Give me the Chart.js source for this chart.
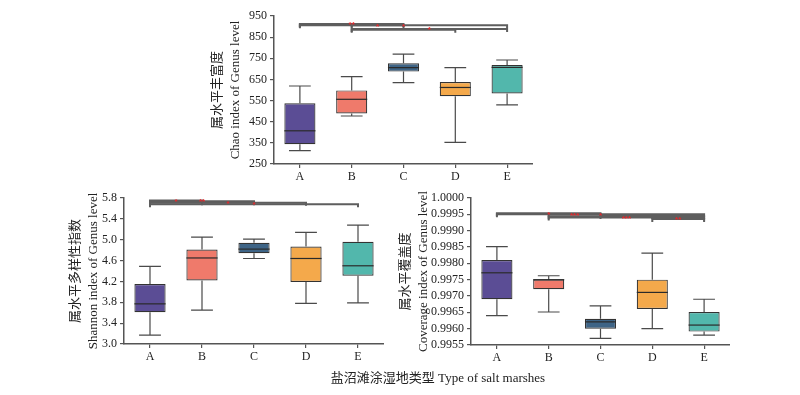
<!DOCTYPE html>
<html>
<head>
<meta charset="utf-8">
<script src="https://cdn.jsdelivr.net/npm/chart.js@4.4.0/dist/chart.umd.min.js"></script>
<style>
  body { margin: 0; background: #fff; width: 800px; height: 395px; position: relative; overflow: hidden; }
  .panel { position: absolute; }
  #xtitle { position: absolute; left: 288px; width: 300px; top: 367px; text-align: center;
            font: 13px 'Liberation Serif', 'Noto Sans CJK SC', serif; color: #222; }
</style>
</head>
<body>
<div class="panel" style="left:206px;top:0px;width:327px;height:188px"><canvas id="chao"></canvas></div>
<div class="panel" style="left:64px;top:182px;width:320px;height:186px"><canvas id="shannon"></canvas></div>
<div class="panel" style="left:394px;top:182px;width:336px;height:187px"><canvas id="coverage"></canvas></div>
<div id="xtitle">盐沼滩涂湿地类型 Type of salt marshes</div>
<script>
const groups = ['A', 'B', 'C', 'D', 'E'];
const colors = ['#5b4d95', '#ef7a6b', '#3e6486', '#f4a94b', '#52b7ac'];

// Chao
const chaoMin = [313, 477, 635, 352, 530];
const chaoQ1 = [344, 489, 687, 571, 584];
const chaoMed = [407, 556, 706, 612, 707];
const chaoQ3 = [537, 598, 726, 638, 718];
const chaoMax = [619, 663, 770, 706, 742];
const chaoTicks = [250, 350, 450, 550, 650, 750, 850, 950];
const chaoSig = [['A', 'B', 910, ''], ['A', 'C', 912, '**'], ['B', 'C', 906, '*'], ['A', 'E', 906, '*'], ['B', 'D', 885, ''], ['B', 'E', 889, '*']];

// Shannon
const shanMin = [3.17, 3.65, 4.64, 3.78, 3.79];
const shanQ1 = [3.61, 4.22, 4.74, 4.19, 4.31];
const shanMed = [3.77, 4.65, 4.82, 4.64, 4.50];
const shanQ3 = [4.15, 4.81, 4.94, 4.87, 4.96];
const shanMax = [4.49, 5.05, 5.01, 5.14, 5.28];
const shanTicks = [3.0, 3.4, 3.8, 4.2, 4.6, 5.0, 5.4, 5.8];
const shanSig = [['A', 'B', 5.75, '*'], ['A', 'C', 5.74, '**'], ['B', 'C', 5.72, ''], ['A', 'D', 5.71, '*'], ['A', 'E', 5.68, '*']];

// Coverage
const covMin = [0.9964, 0.99651, 0.9957, 0.9960, 0.9958];
const covQ1 = [0.9969, 0.99721, 0.9960, 0.9966, 0.99591];
const covMed = [0.99771, 0.9975, 0.99621, 0.99711, 0.99611];
const covQ3 = [0.9981, 0.9975, 0.9963, 0.9975, 0.99651];
const covMax = [0.99851, 0.99762, 0.9967, 0.99831, 0.9969];
const covTicks = [0.9955, 0.9960, 0.9965, 0.9970, 0.9975, 0.9980, 0.9985, 0.9990, 0.9995, 1.0000];
const covSig = [['A', 'C', 0.99953, '*'], ['B', 'C', 0.99950, '***'], ['A', 'E', 0.99950, '*'], ['B', 'D', 0.99944, ''], ['C', 'E', 0.99945, ''], ['B', 'E', 0.99940, '***'], ['D', 'E', 0.99936, '**']];

const serif = "'Liberation Serif', 'Noto Sans CJK SC', serif";

// whiskers, medians and significance brackets, placed with the chart scales
const boxExtras = {
  id: 'boxExtras',
  afterDatasetsDraw(chart, args, opts) {
    const ctx = chart.ctx;
    const x = chart.scales.x, y = chart.scales.y;
    const meta = chart.getDatasetMeta(0);
    ctx.save();
    ctx.strokeStyle = '#4a4a4a';
    ctx.lineWidth = 1.2;
    groups.forEach((g, i) => {
      const cx = x.getPixelForValue(i);
      const w = meta.data[i].width;
      const cap = w * 0.7;
      ctx.beginPath();
      ctx.moveTo(cx, y.getPixelForValue(opts.max[i]));
      ctx.lineTo(cx, y.getPixelForValue(opts.q3[i]));
      ctx.moveTo(cx, y.getPixelForValue(opts.q1[i]));
      ctx.lineTo(cx, y.getPixelForValue(opts.min[i]));
      ctx.moveTo(cx - cap / 2, y.getPixelForValue(opts.max[i]));
      ctx.lineTo(cx + cap / 2, y.getPixelForValue(opts.max[i]));
      ctx.moveTo(cx - cap / 2, y.getPixelForValue(opts.min[i]));
      ctx.lineTo(cx + cap / 2, y.getPixelForValue(opts.min[i]));
      ctx.stroke();
      ctx.beginPath();
      ctx.strokeStyle = '#2a2a2a';
      ctx.moveTo(cx - w / 2, y.getPixelForValue(opts.med[i]));
      ctx.lineTo(cx + w / 2, y.getPixelForValue(opts.med[i]));
      ctx.stroke();
      ctx.strokeStyle = '#4a4a4a';
    });
    ctx.strokeStyle = '#5e5e5e';
    ctx.lineWidth = 2;
    opts.sig.forEach(s => {
      const x1 = x.getPixelForValue(groups.indexOf(s[0]));
      const x2 = x.getPixelForValue(groups.indexOf(s[1]));
      const yy = y.getPixelForValue(s[2]);
      ctx.beginPath();
      ctx.moveTo(x1, yy + 3);
      ctx.lineTo(x1, yy);
      ctx.lineTo(x2, yy);
      ctx.lineTo(x2, yy + 3);
      ctx.stroke();
    });
    ctx.fillStyle = '#e8262a';
    ctx.font = 'bold 8px "Liberation Sans"';
    ctx.textAlign = 'center';
    ctx.textBaseline = 'middle';
    opts.sig.forEach(s => {
      if (!s[3]) return;
      const x1 = x.getPixelForValue(groups.indexOf(s[0]));
      const x2 = x.getPixelForValue(groups.indexOf(s[1]));
      ctx.fillText(s[3], (x1 + x2) / 2, y.getPixelForValue(s[2]) + 1);
    });
    ctx.restore();
  }
};

function makePanel(id, q1, med, q3, mn, mx, ticks, digits, sig, title, yWidth) {
  new Chart(document.getElementById(id), {
    type: 'bar',
    data: {
      labels: groups,
      datasets: [{
        data: q1.map((v, i) => [v, q3[i]]),
        backgroundColor: colors,
        borderColor: '#333333',
        borderWidth: 1.2,
        borderSkipped: false,
        barPercentage: 0.6,
        categoryPercentage: 1
      }]
    },
    options: {
      responsive: true,
      maintainAspectRatio: false,
      animation: false,
      layout: { padding: { top: 16, right: 0, bottom: 0, left: 0 } },
      plugins: {
        legend: { display: false },
        tooltip: { enabled: false },
        boxExtras: { q1: q1, med: med, q3: q3, min: mn, max: mx, sig: sig }
      },
      scales: {
        x: {
          grid: { drawOnChartArea: false, offset: false, tickLength: 4, color: '#555', lineWidth: 1.2 },
          border: { color: '#555', width: 1.5 },
          ticks: { color: '#222', padding: 2, font: { family: serif, size: 12 } },
          afterFit: s => { s.height = 24; }
        },
        y: {
          min: ticks[0],
          max: ticks[ticks.length - 1],
          afterBuildTicks: s => { s.ticks = ticks.map(v => ({ value: v })); },
          grid: { drawOnChartArea: false, tickLength: 4, color: '#555', lineWidth: 1.2 },
          border: { color: '#555', width: 1.5 },
          ticks: { color: '#222', padding: 3, autoSkip: false, font: { family: serif, size: 12 },
                   callback: v => Number(v).toFixed(digits) },
          title: { display: true, text: title, color: '#222', padding: { top: 2, bottom: 0 },
                   font: { family: serif, size: 13, lineHeight: 1.4 } },
          afterFit: s => { s.width = yWidth; }
        }
      }
    },
    plugins: [boxExtras]
  });
}

makePanel('chao', chaoQ1, chaoMed, chaoQ3, chaoMin, chaoMax, chaoTicks, 0, chaoSig,
  ['属水平丰富度', 'Chao index of Genus level'], 68);
makePanel('shannon', shanQ1, shanMed, shanQ3, shanMin, shanMax, shanTicks, 1, shanSig,
  ['属水平多样性指数', 'Shannon index of Genus level'], 60);
makePanel('coverage', covQ1, covMed, covQ3, covMin, covMax, covTicks, 4, covSig,
  ['属水平覆盖度', 'Coverage index of Genus level'], 77);
</script>
</body>
</html>
